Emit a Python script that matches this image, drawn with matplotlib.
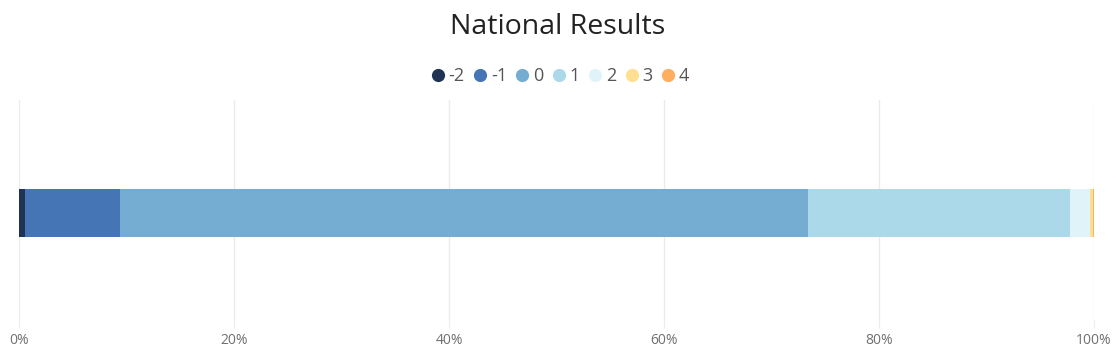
import matplotlib
matplotlib.use("Agg")
import matplotlib.pyplot as plt
from matplotlib.lines import Line2D
from matplotlib.ticker import FuncFormatter

categories = ["-2", "-1", "0", "1", "2", "3", "4"]
values = [0.56, 8.87, 64.0, 24.3, 1.86, 0.31, 0.1]
colors = ["#1e3452", "#4575b4", "#74add1", "#abd9e9", "#e0f3f8", "#fee090", "#fdae61"]
xticks = [0, 20, 40, 60, 80, 100]

plt.rcParams['font.family'] = ['Open Sans', 'DejaVu Sans']

W, H = 1116, 355
fig = plt.figure(figsize=(W / 100, H / 100), dpi=100)
ax = fig.add_axes([19 / W, (H - 320) / H, (1094 - 19) / W, 220 / H])

left = 0
for cat, v, c in zip(categories, values, colors):
    ax.barh(0, v, left=left, height=0.218, color=c, edgecolor='none', zorder=3)
    left += v

ax.set_xlim(0, 100)
ax.set_ylim(-0.486, 0.514)
ax.set_yticks([])
ax.set_xticks(xticks)
ax.xaxis.set_major_formatter(FuncFormatter(lambda x, p: f"{int(x)}%"))
ax.grid(axis='x', color='#ebebeb', linewidth=1, zorder=0)
ax.tick_params(axis='x', length=6, color='#ebebeb', labelsize=10, labelcolor='#707070', pad=3)
for s in ax.spines.values():
    s.set_visible(False)

fig.text(0.5, (H - 27) / H, "National Results", ha='center', va='center', fontsize=20.5, color='#222222')

handles = [Line2D([0], [0], marker='o', linestyle='none', markersize=9.5, markerfacecolor=c,
                  markeredgecolor='none') for c in colors]
fig.legend(handles, categories, loc='center', bbox_to_anchor=(0.5, (H - 76) / H), ncol=7,
           frameon=False, fontsize=13, labelcolor='#555555', handletextpad=0.0,
           columnspacing=0.25, handlelength=1.2, borderaxespad=0)

fig.savefig("out.png", dpi=100)
